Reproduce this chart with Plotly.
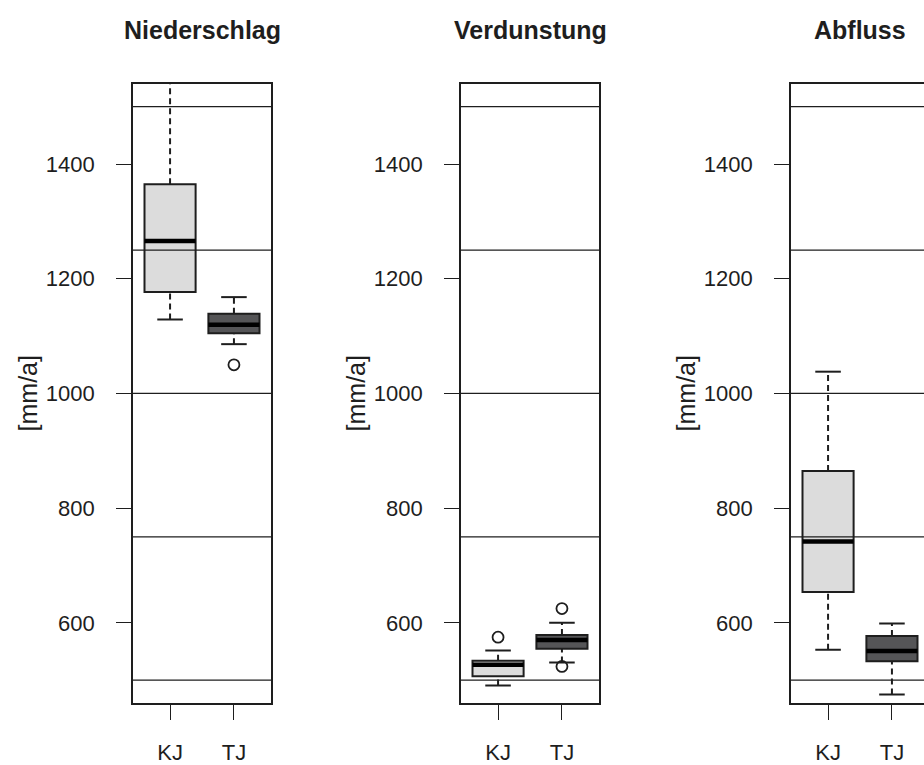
import plotly.graph_objects as go

# Three water-balance components, two periods each
panel_titles = ["Niederschlag", "Verdunstung", "Abfluss"]
groups = ["KJ", "TJ"]
group_fill = ["#dcdcdc", "#555557"]

# Box statistics per panel, per group (KJ, TJ) in mm/a
low_whisker = [[1129, 1086], [491, 531], [553, 475]]
q1 = [[1177, 1105], [507, 555], [654, 533]]
median = [[1266, 1120], [527, 570], [742, 551]]
q3 = [[1365, 1139], [534, 579], [865, 577]]
high_whisker = [[1590, 1168], [552, 600], [1038, 599]]
outliers = [[[], [1050]], [[575], [625, 524]], [[], []]]

ref_levels = [500, 750, 1000, 1250, 1500]
y_ticks = [600, 800, 1000, 1200, 1400]
y_label = "[mm/a]"

W, H = 924, 765
ink = "#1e1e1e"
font_family = "Liberation Sans, Arial, sans-serif"

# panel placement (pixels)
panel_left = [133, 461, 791]
panel_w = 138
top_px, bottom_px = 84, 705
y_range = [460, 1540]
x_lo, x_hi = 0.42, 2.58
box_half = 0.4
cap_half = 0.2

fig = go.Figure()
shapes = []
annotations = []

ydom = [(H - bottom_px) / H, (H - top_px) / H]

for i, title in enumerate(panel_titles):
    sfx = "" if i == 0 else str(i + 1)
    xr, yr = "x" + sfx, "y" + sfx
    left = panel_left[i]
    right = min(left + panel_w, W)
    visible_hi = x_lo + (x_hi - x_lo) * (right - left) / panel_w
    full_box = right == left + panel_w

    fig.update_layout(**{
        "xaxis" + sfx: dict(
            domain=[left / W, right / W], range=[x_lo, visible_hi], anchor=yr,
            tickvals=[1, 2], ticktext=groups, ticks="outside", ticklen=15,
            tickwidth=1.4, tickcolor=ink, showline=True, mirror=True,
            linecolor=ink, linewidth=1.6, showgrid=False, zeroline=False,
            ticklabelstandoff=14,
            tickfont=dict(family=font_family, size=22, color=ink),
        ),
        "yaxis" + sfx: dict(
            domain=ydom, range=y_range, anchor=xr,
            tickvals=y_ticks, ticks="outside", ticklen=15, tickwidth=1.4,
            tickcolor=ink, showline=True, mirror=full_box, linecolor=ink,
            linewidth=1.6, showgrid=False, zeroline=False,
            ticklabelstandoff=17,
            tickfont=dict(family=font_family, size=22, color=ink),
        ),
    })

    for g in range(len(groups)):
        xc = g + 1
        # whiskers (dashed) and caps
        for a, b in ((q3[i][g], high_whisker[i][g]), (low_whisker[i][g], q1[i][g])):
            shapes.append(dict(type="line", xref=xr, yref=yr, x0=xc, x1=xc,
                               y0=a, y1=b, layer="above",
                               line=dict(color=ink, width=2, dash="6px,4px")))
        for v in (low_whisker[i][g], high_whisker[i][g]):
            shapes.append(dict(type="line", xref=xr, yref=yr,
                               x0=xc - cap_half, x1=xc + cap_half, y0=v, y1=v,
                               layer="above", line=dict(color=ink, width=2)))
        # box body
        shapes.append(dict(type="rect", xref=xr, yref=yr,
                           x0=xc - box_half, x1=xc + box_half,
                           y0=q1[i][g], y1=q3[i][g], layer="above",
                           fillcolor=group_fill[g], line=dict(color=ink, width=2)))
        # median
        shapes.append(dict(type="line", xref=xr, yref=yr,
                           x0=xc - box_half, x1=xc + box_half,
                           y0=median[i][g], y1=median[i][g], layer="above",
                           line=dict(color="#000000", width=4.5)))
        # outliers
        if outliers[i][g]:
            fig.add_trace(go.Scatter(
                x=[xc] * len(outliers[i][g]), y=outliers[i][g], xaxis=xr, yaxis=yr,
                mode="markers", showlegend=False, hoverinfo="y",
                marker=dict(symbol="circle-open", size=11, color=ink,
                            line=dict(width=1.8, color=ink)),
            ))

    # horizontal reference levels over the boxes
    for lv in ref_levels:
        shapes.append(dict(type="line", xref=xr + " domain", yref=yr,
                           x0=0, x1=1, y0=lv, y1=lv, layer="above",
                           line=dict(color=ink, width=1.3)))

    # panel title
    annotations.append(dict(text="<b>" + title + "</b>", xref="paper", yref="paper",
                            x=(left + panel_w / 2) / W, y=(H - 30) / H,
                            xanchor="center", yanchor="middle", showarrow=False,
                            font=dict(family=font_family, size=25, color=ink)))
    # y-axis label
    annotations.append(dict(text=y_label, xref="paper", yref="paper",
                            x=(left - 105) / W, y=(H - (top_px + bottom_px) / 2) / H,
                            xanchor="center", yanchor="middle", textangle=-90,
                            showarrow=False,
                            font=dict(family=font_family, size=25, color=ink)))

fig.update_layout(
    width=W, height=H, margin=dict(l=0, r=0, t=0, b=0),
    paper_bgcolor="white", plot_bgcolor="white",
    shapes=shapes, annotations=annotations, showlegend=False,
)

fig.write_html("out.html")
